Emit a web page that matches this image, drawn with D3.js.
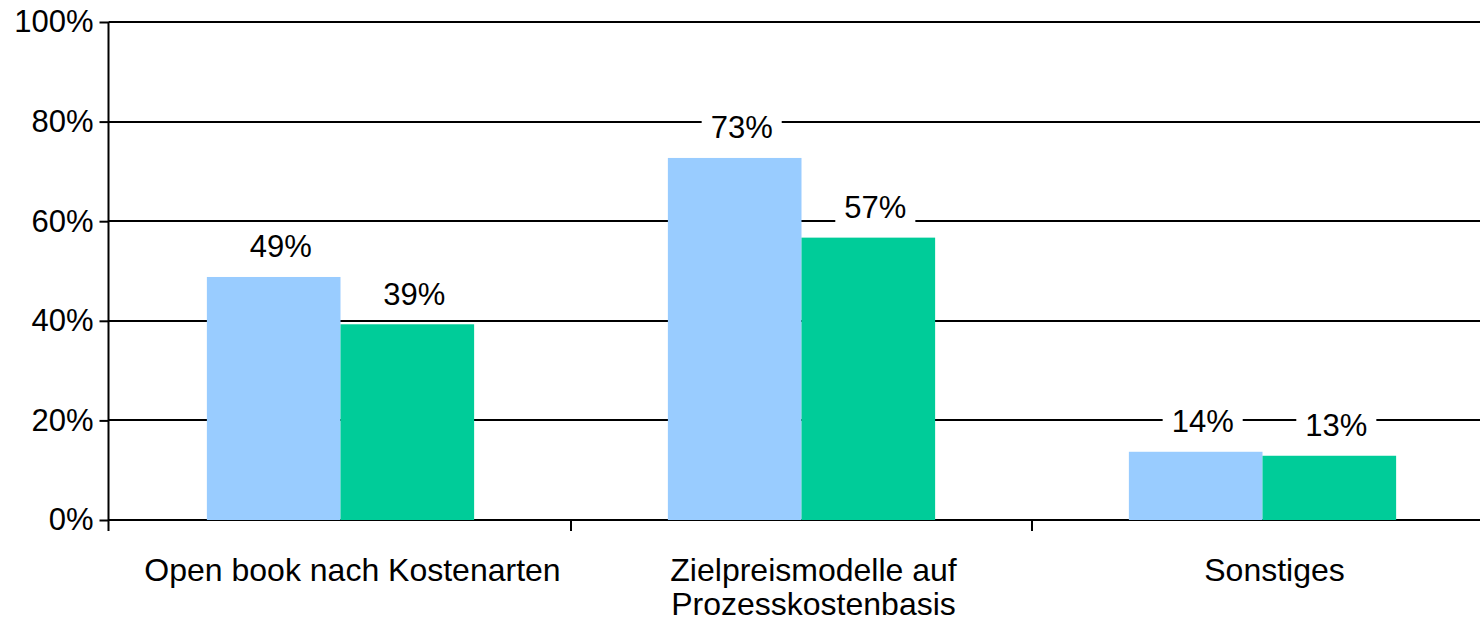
<!DOCTYPE html>
<html>
<head>
<meta charset="utf-8">
<script src="https://cdn.jsdelivr.net/npm/d3@7"></script>
<style>
  body { margin: 0; background: #fff; }
  svg { display: block; font-family: "Liberation Sans", Arial, sans-serif; }
</style>
</head>
<body>
<svg></svg>
<script>
var categories = ["Open book nach Kostenarten", "Zielpreismodelle auf\nProzesskostenbasis", "Sonstiges"];
var seriesNames = ["A", "B"];
var valuesA = [48.8, 72.7, 13.7];   // light blue bars
var valuesB = [39.3, 56.7, 12.9];   // green bars
var yTicks = [0, 20, 40, 60, 80, 100];
var colors = ["#99CCFF", "#00CC99"];

var svgWidth = 1480, svgHeight = 622;
var axisX = 108.5;

var svg = d3.select("svg")
    .attr("width", svgWidth)
    .attr("height", svgHeight);

var yScale = d3.scaleLinear()
    .domain([0, 100])
    .range([520, 22]);

// category bands run a bit past the right edge of the picture
var xScale = d3.scaleBand()
    .domain(categories)
    .range([110, 1493])
    .padding(0);

var xSub = d3.scaleBand()
    .domain(seriesNames)
    .range([0, xScale.step()])
    .paddingInner(0)
    .paddingOuter(0.725);

// gridlines
svg.append("g")
    .selectAll("line")
    .data(yTicks)
    .enter()
    .append("line")
    .attr("x1", axisX)
    .attr("x2", svgWidth)
    .attr("y1", function(d) { return Math.round(yScale(d)); })
    .attr("y2", function(d) { return Math.round(yScale(d)); })
    .attr("stroke", "#000")
    .attr("stroke-width", 2);

// bars
var rows = categories.map(function(c, i) {
    return [{cat: c, s: "A", v: valuesA[i]}, {cat: c, s: "B", v: valuesB[i]}];
});

var groups = svg.selectAll("g.grp")
    .data(rows)
    .enter()
    .append("g")
    .attr("class", "grp")
    .attr("transform", function(d) { return "translate(" + xScale(d[0].cat) + ",0)"; });

groups.selectAll("rect")
    .data(function(d) { return d; })
    .enter()
    .append("rect")
    .attr("x", function(d) { return xSub(d.s); })
    .attr("width", xSub.bandwidth())
    .attr("y", function(d) { return yScale(d.v); })
    .attr("height", function(d) { return yScale(0) - yScale(d.v); })
    .attr("fill", function(d, i) { return colors[i]; });

// value labels with white boxes over the gridlines
var labels = groups.selectAll("g.lbl")
    .data(function(d) { return d; })
    .enter()
    .append("g")
    .attr("class", "lbl");

labels.append("text")
    .attr("x", function(d) { return xSub(d.s) + xSub.bandwidth() / 2 + 7; })
    .attr("y", function(d) { return yScale(d.v) - 19.5; })
    .attr("text-anchor", "middle")
    .attr("font-size", "31px")
    .attr("fill", "#000")
    .text(function(d) { return Math.round(d.v) + "%"; });

labels.each(function() {
    var g = d3.select(this);
    var b = g.select("text").node().getBBox();
    g.insert("rect", "text")
        .attr("x", b.x - 9)
        .attr("y", b.y)
        .attr("width", b.width + 18)
        .attr("height", b.height)
        .attr("fill", "#fff");
});

// y axis
var yAxis = d3.axisLeft(yScale)
    .tickValues(yTicks)
    .tickSize(9)
    .tickPadding(6)
    .tickFormat(function(d) { return d + "%"; });

var yg = svg.append("g")
    .attr("transform", "translate(" + axisX + ",0)")
    .call(yAxis);
yg.select(".domain").remove();
yg.selectAll(".tick line").attr("stroke", "#000").attr("stroke-width", 2);
yg.selectAll(".tick text")
    .attr("font-size", "31px")
    .attr("font-family", "Liberation Sans, Arial, sans-serif")
    .attr("fill", "#000");

svg.append("line")
    .attr("x1", axisX).attr("x2", axisX)
    .attr("y1", yScale(100)).attr("y2", 531)
    .attr("stroke", "#000")
    .attr("stroke-width", 2);

// category ticks between groups
svg.selectAll("line.ctick")
    .data(categories.slice(1))
    .enter()
    .append("line")
    .attr("class", "ctick")
    .attr("x1", function(d) { return Math.round(xScale(d)); })
    .attr("x2", function(d) { return Math.round(xScale(d)); })
    .attr("y1", 520)
    .attr("y2", 531)
    .attr("stroke", "#000")
    .attr("stroke-width", 2);

// category labels
var catText = svg.selectAll("text.cat")
    .data(categories)
    .enter()
    .append("text")
    .attr("class", "cat")
    .attr("text-anchor", "middle")
    .attr("font-size", "32px")
    .attr("fill", "#000");

catText.selectAll("tspan")
    .data(function(d) { return d.split("\n").map(function(t) { return {cat: d, t: t}; }); })
    .enter()
    .append("tspan")
    .attr("x", function(d) { return xScale(d.cat) + xScale.bandwidth() / 2 + 12; })
    .attr("y", function(d, i) { return 581 + i * 34; })
    .text(function(d) { return d.t; });
</script>
</body>
</html>
